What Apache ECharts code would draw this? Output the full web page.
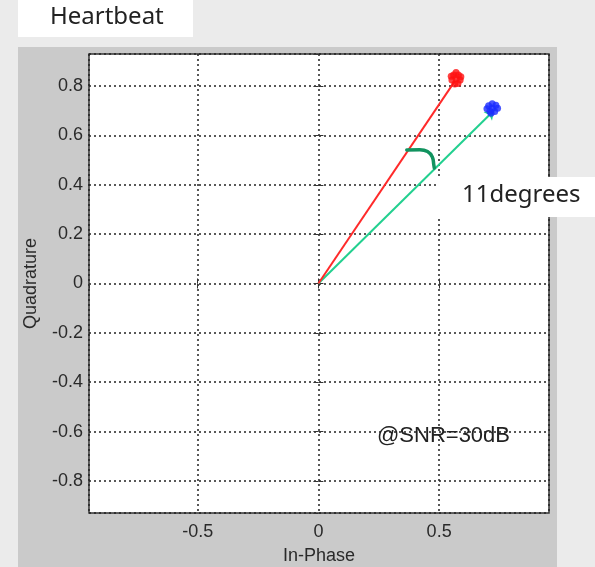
<!DOCTYPE html>
<html>
<head>
<meta charset="utf-8">
<script src="https://cdn.jsdelivr.net/npm/echarts@6/dist/echarts.min.js"></script>
<style>
  html, body { margin: 0; padding: 0; }
  #main { width: 595px; height: 567px; }
</style>
</head>
<body>
<div id="main"></div>
<script>
// IQ constellation data
var redCluster = [[0.57, 0.83], [0.56, 0.845], [0.58, 0.845], [0.553, 0.825], [0.587, 0.825],
                  [0.565, 0.808], [0.578, 0.81], [0.57, 0.855], [0.55, 0.84], [0.59, 0.838]];
var blueCluster = [[0.72, 0.71], [0.705, 0.72], [0.735, 0.722], [0.71, 0.698], [0.73, 0.697],
                   [0.72, 0.728], [0.698, 0.708], [0.742, 0.71], [0.715, 0.69]];
var redVector = [[0, 0], [0.565, 0.82]];
var greenVector = [[0, 0], [0.728, 0.702]];
var angleArc = [[0.366, 0.541], [0.42, 0.542], [0.452, 0.535], [0.472, 0.512], [0.478, 0.48], [0.48, 0.468]];

var xRange = [-0.95, 0.955];
var yRange = [-0.93, 0.93];

var chart = echarts.init(document.getElementById('main'));

var gridStyle = {
    show: true,
    lineStyle: { color: '#222', type: [2, 3], width: 1.5 }
};

var option = {
    backgroundColor: '#ebebeb',
    animation: false,
    textStyle: { fontFamily: 'Liberation Sans' },
    grid: {
        left: 89, right: 46, top: 54, bottom: 54,
        outerBoundsMode: 'none',
        containLabel: false,
        show: true,
        backgroundColor: '#fff',
        borderColor: '#333',
        borderWidth: 1.5
    },
    xAxis: [
        {
            type: 'value',
            min: xRange[0], max: xRange[1],
            splitNumber: 4,
            name: 'In-Phase',
            nameLocation: 'middle',
            nameGap: 34,
            nameTextStyle: { color: '#2a2a2a', fontSize: 18 },
            axisLine: { show: false },
            axisTick: { show: true, inside: true, length: 5, lineStyle: { color: '#333' } },
            axisLabel: {
                color: '#2a2a2a', fontSize: 18, margin: 10,
                showMinLabel: false, showMaxLabel: false
            },
            splitLine: gridStyle
        },
        {
            type: 'value', position: 'top',
            min: xRange[0], max: xRange[1], splitNumber: 4,
            axisLine: { show: false },
            axisTick: { show: true, inside: true, length: 5, lineStyle: { color: '#333' } },
            axisLabel: { show: false },
            splitLine: { show: false }
        }
    ],
    yAxis: [
        {
            type: 'value',
            min: yRange[0], max: yRange[1],
            splitNumber: 9,
            name: 'Quadrature',
            nameLocation: 'middle',
            nameGap: 49,
            nameTextStyle: { color: '#2a2a2a', fontSize: 18 },
            axisLine: { show: false },
            axisTick: { show: true, inside: true, length: 5, lineStyle: { color: '#333' } },
            axisLabel: {
                color: '#2a2a2a', fontSize: 18, margin: 6,
                showMinLabel: false, showMaxLabel: false
            },
            splitLine: gridStyle
        },
        {
            type: 'value', position: 'right',
            min: yRange[0], max: yRange[1], splitNumber: 9,
            axisLine: { show: false },
            axisTick: { show: true, inside: true, length: 5, lineStyle: { color: '#333' } },
            axisLabel: { show: false },
            splitLine: { show: false }
        }
    ],
    series: [
        {
            type: 'line',
            data: redVector,
            symbol: 'none',
            lineStyle: { color: '#ff2a2a', width: 2 },
            z: 3
        },
        {
            type: 'lines',
            coordinateSystem: 'cartesian2d',
            data: [{ coords: greenVector }],
            symbol: ['none', 'arrow'],
            symbolSize: 9,
            lineStyle: { color: '#22d08f', width: 2, opacity: 1 },
            z: 3
        },
        {
            type: 'line',
            data: angleArc,
            smooth: true,
            symbol: 'none',
            lineStyle: { color: '#11935f', width: 3.5, cap: 'round' },
            z: 4
        },
        {
            type: 'scatter',
            data: redCluster,
            symbol: 'circle',
            symbolSize: 7,
            itemStyle: { color: '#ff1010' },
            z: 5
        },
        {
            type: 'scatter',
            data: blueCluster,
            symbol: 'circle',
            symbolSize: 7,
            itemStyle: { color: '#1a2cff' },
            z: 5
        }
    ],
    graphic: [
        {
            type: 'rect', z: -10, silent: true,
            shape: { x: 18, y: 47, width: 539, height: 520 },
            style: { fill: '#cacaca' }
        },
        {
            type: 'rect', z: 10,
            shape: { x: 18, y: 0, width: 175, height: 37 },
            style: { fill: '#fff' }
        },
        {
            type: 'text', z: 11,
            left: 50, top: 5,
            style: { text: 'Heartbeat', font: '24px "Noto Sans"', fill: '#222' }
        },
        {
            type: 'rect', z: 10,
            shape: { x: 438, y: 177, width: 157, height: 40 },
            style: { fill: '#fff' }
        },
        {
            type: 'text', z: 11,
            left: 462, top: 183,
            style: { text: '11degrees', font: '24px "Noto Sans"', fill: '#222' }
        },
        {
            type: 'text', z: 11,
            left: 377, top: 425,
            style: { text: '@SNR=30dB', font: '22px "Liberation Sans"', fill: '#222' }
        }
    ]
};

chart.setOption(option);
</script>
</body>
</html>
